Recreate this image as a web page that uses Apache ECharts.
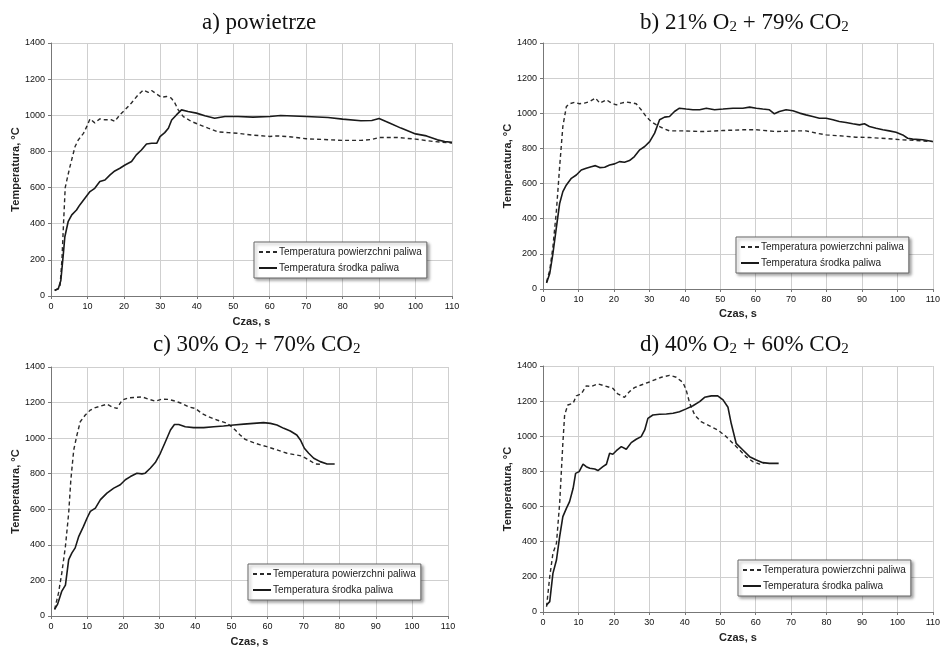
<!DOCTYPE html>
<html>
<head>
<meta charset="utf-8">
<script src="https://cdn.jsdelivr.net/npm/echarts@6/dist/echarts.min.js"></script>
<style>html,body{margin:0;padding:0;background:#fff;}#c{width:943px;height:648px;}</style>
</head>
<body>
<div id="c"></div>
<script>
// Series names
const nameSurface = 'Temperatura powierzchni paliwa';
const nameCore = 'Temperatura środka paliwa';
// Axis texts
const xName = 'Czas, s';
const yName = 'Temperatura, °C';
// Titles
const titles = ['a) powietrze', 'b) 21% O{s|2} + 79% CO{s|2}', 'c) 30% O{s|2} + 70% CO{s|2}', 'd) 40% O{s|2} + 60% CO{s|2}'];

// a) powietrze  [time s, temperature °C]
const aSurface = [[1,33],[2,40],[2.5,60],[3,200],[3.5,430],[3.9,600],[4.5,655],[5.2,716],[6.6,827],[7.5,864],[8.9,900],[9.8,937],[10.7,980],[12,958],[13.4,980],[14.8,975],[16.6,975],[17.5,966],[18.9,1003],[20.3,1030],[22,1067],[23.9,1113],[25.3,1140],[26.7,1127],[27.6,1137],[29,1117],[30.3,1100],[31.7,1104],[33,1095],[34,1067],[34.9,1030],[36.3,993],[38.5,966],[40.8,947],[43.1,929],[45.8,908],[48.6,904],[51.3,900],[55.4,890],[60,883],[62,886],[66,880],[70,870],[75,866],[80,861],[85,861],[88,866],[90,877],[95,877],[100,868],[105,855],[110,846]];
const aCore = [[1,31],[2,40],[2.7,86],[3.4,236],[3.8,328],[4.7,411],[5.7,449],[7,476],[7.9,504],[9.3,541],[10.7,578],[12,596],[13.4,633],[14.8,642],[16.2,670],[17.5,692],[18.9,707],[20.3,725],[22.1,744],[23.4,781],[24.8,808],[26.2,841],[27.6,845],[29,845],[29.9,882],[31.2,904],[32.2,928],[33.1,974],[34.4,1002],[35.8,1030],[37.6,1021],[39.9,1012],[42.2,997],[44.9,984],[47.7,993],[51.3,993],[55.4,990],[60,993],[63,999],[70,993],[76,988],[80,979],[85,970],[88,971],[90,982],[93,956],[96,929],[100,897],[103,886],[106,864],[108,855],[110,850]];

// b) 21% O2 + 79% CO2
const bSurface = [[1,40],[1.9,107],[2.8,240],[3.8,449],[4.7,697],[5.6,925],[6.6,1039],[7.5,1054],[8.9,1062],[10.3,1054],[11.7,1058],[13.2,1067],[14.8,1087],[16,1058],[17.9,1077],[19.3,1058],[20.7,1048],[22.1,1058],[23.5,1064],[25.4,1058],[26.3,1054],[27.7,1020],[29.1,982],[30.5,953],[32,934],[33.8,915],[35.7,900],[39.5,900],[45.1,896],[50.8,902],[56.4,906],[60.2,906],[65.8,896],[71.4,900],[74.2,900],[77.1,887],[79.9,877],[83.6,872],[88.3,864],[92.1,862],[96.8,856],[101.5,849],[105.3,845],[110,839]];
const bCore = [[1,34],[1.9,88],[2.8,202],[3.8,354],[4.7,487],[5.6,554],[6.6,592],[8,630],[9.4,649],[10.8,677],[12.2,687],[13.6,696],[14.8,702],[16,691],[17.4,693],[18.8,706],[20.2,712],[21.6,725],[23,721],[24.4,731],[25.8,754],[27.3,792],[28.7,811],[30.1,839],[31.5,887],[32.9,963],[34.3,978],[35.7,982],[37.1,1010],[38.5,1029],[40.4,1024],[42.3,1020],[44.2,1020],[46.1,1029],[48.4,1020],[50.8,1024],[53.6,1029],[56.4,1029],[58.3,1035],[60.2,1029],[62,1024],[63.9,1020],[65.3,997],[66.7,1010],[68.6,1020],[70.5,1014],[72.4,1001],[74.2,991],[76.1,982],[78,972],[79.9,972],[81.8,963],[83.6,953],[85.5,948],[87.4,940],[89.3,934],[90.7,940],[92.1,925],[94,915],[95.9,906],[97.7,900],[99.6,892],[101.5,877],[102.9,858],[104.3,853],[107.1,849],[110,839]];

// c) 30% O2 + 70% CO2
const cSurface = [[1,37],[2.1,131],[3,243],[4,392],[4.9,579],[5.5,766],[6.3,934],[7.2,1018],[8.1,1092],[9.5,1130],[10.9,1158],[12.3,1172],[13.7,1180],[15.5,1191],[16.9,1176],[18.3,1167],[19.7,1214],[21.5,1227],[23.4,1229],[25.2,1232],[27.1,1219],[28.9,1208],[30.7,1219],[32.6,1218],[34.4,1208],[36.3,1195],[38.1,1176],[40,1167],[41.8,1139],[43.7,1120],[46,1102],[48.8,1083],[50.6,1055],[52.4,1018],[53.8,993],[56.1,975],[58,962],[59.8,952],[62.6,934],[65.4,915],[67.7,906],[69.5,900],[71.4,878],[73.2,855],[75,853]];
const cCore = [[1,37],[1.8,65],[3,140],[4,174],[4.9,317],[5.8,355],[6.7,383],[7.7,448],[9,504],[10,551],[10.9,588],[12.3,607],[13.7,654],[15.5,691],[17.4,719],[19.2,738],[20.6,766],[22,784],[23.8,803],[25.2,799],[26.1,803],[27.5,831],[28.9,863],[30.3,915],[31.7,980],[33.1,1046],[34.2,1077],[35.4,1077],[37.2,1064],[39.5,1059],[42.3,1059],[45.1,1064],[47.8,1068],[50.6,1074],[53.4,1079],[56.1,1083],[58.9,1087],[60.8,1083],[62.6,1074],[64.5,1055],[66.3,1040],[68.1,1018],[69.1,990],[70.2,943],[71.4,915],[72.8,887],[74.6,868],[76.5,855],[78.6,855]];

// d) 40% O2 + 60% CO2
const dSurface = [[1,30],[1.9,201],[2.8,334],[3.8,391],[4.7,619],[5.6,960],[6.1,1121],[7,1178],[8.5,1188],[9.4,1230],[10.8,1241],[12.2,1287],[13.6,1283],[15.5,1298],[17.4,1287],[19.7,1273],[21.1,1241],[23,1222],[24.4,1254],[25.8,1277],[27.7,1292],[29.6,1306],[31.5,1321],[33.4,1336],[35.7,1347],[37.6,1336],[39.5,1306],[40.4,1264],[41.4,1188],[42.8,1121],[44.6,1083],[47,1059],[49.3,1036],[51.7,998],[53.6,960],[55.5,922],[57.3,884],[59.2,856],[61.1,842],[62.5,850]];
const dCore = [[1,40],[1.9,59],[2.8,220],[3.8,296],[4.7,429],[5.6,543],[6.6,590],[7.5,628],[8.5,704],[9.2,789],[10.2,799],[11.3,841],[12.2,827],[13.2,818],[14.6,814],[15.5,805],[16.9,827],[17.9,841],[18.8,903],[19.7,898],[20.7,918],[22.1,941],[23.5,926],[24.9,964],[26.3,983],[27.7,998],[28.7,1036],[29.6,1102],[31,1121],[32.9,1125],[34.8,1127],[36.7,1131],[38.5,1140],[40.4,1156],[42.3,1174],[44.2,1197],[45.6,1222],[47.5,1230],[49.3,1230],[50.8,1207],[52.2,1165],[53.1,1074],[54.5,960],[56.4,922],[58.3,884],[60.2,865],[62,850],[63.9,846],[66.5,846]];

const surfaces = [aSurface, bSurface, cSurface, dSurface];
const cores = [aCore, bCore, cCore, dCore];

// layout (pixels)
const grids = [
  {left: 51, top: 43, width: 401, height: 253},
  {left: 543, top: 43, width: 390, height: 246},
  {left: 51, top: 367, width: 397, height: 250},
  {left: 543, top: 366, width: 390, height: 246}
];
const titlePos = [{left: 202, top: 10}, {left: 640, top: 10}, {left: 153, top: 332}, {left: 640, top: 332}];
const legendPos = [{left: 254, top: 242}, {left: 736, top: 237}, {left: 248, top: 564}, {left: 738, top: 560}];
const xNameGap = [20, 19, 20, 20];

const sans = 'Liberation Sans, Arial, sans-serif';
const serif = 'Liberation Serif, Times New Roman, serif';

const option = {
  backgroundColor: '#fff',
  animation: false,
  title: titles.map((t, i) => ({
    text: t,
    left: titlePos[i].left, top: titlePos[i].top, padding: 0,
    textStyle: {
      fontFamily: serif, fontSize: 23, fontWeight: 'normal', color: '#111', lineHeight: 25,
      rich: { s: { fontFamily: serif, fontSize: 15, color: '#111', verticalAlign: 'bottom', lineHeight: 15 } }
    }
  })),
  grid: grids,
  legend: legendPos.map((p, i) => ({
    left: p.left, top: p.top, orient: 'vertical',
    data: [nameSurface, nameCore],
    padding: [5, 5, 5, 4], itemGap: 6, itemWidth: 18, itemHeight: 10,
    backgroundColor: '#fff', borderColor: '#666', borderWidth: 1,
    shadowColor: 'rgba(0,0,0,0.35)', shadowBlur: 3, shadowOffsetX: 2, shadowOffsetY: 2,
    itemStyle: { color: 'rgba(0,0,0,0)', borderWidth: 0, opacity: 0 },
    textStyle: { fontFamily: sans, fontSize: 10, color: '#222', padding: [0, 0, 0, -3] },
    selectedMode: false
  })),
  xAxis: grids.map((g, i) => ({
    type: 'value', gridIndex: i, min: 0, max: 110, interval: 10,
    name: xName, nameLocation: 'middle', nameGap: xNameGap[i],
    nameTextStyle: { fontFamily: sans, fontSize: 11, fontWeight: 'bold', color: '#222' },
    axisLine: { show: true, lineStyle: { color: '#777', width: 1 } },
    axisTick: { show: true, length: 3, lineStyle: { color: '#777' } },
    axisLabel: { fontFamily: sans, fontSize: 9, color: '#111', margin: 6, formatter: v => String(v) },
    splitLine: { show: true, lineStyle: { color: '#cfcfcf', width: 1 } }
  })),
  yAxis: grids.map((g, i) => ({
    type: 'value', gridIndex: i, min: 0, max: 1400, interval: 200,
    name: yName, nameLocation: 'middle', nameGap: 30, nameRotate: 90,
    nameTextStyle: { fontFamily: sans, fontSize: 11, fontWeight: 'bold', color: '#222' },
    axisLine: { show: true, lineStyle: { color: '#777', width: 1 } },
    axisTick: { show: true, length: 3, lineStyle: { color: '#777' } },
    axisLabel: { fontFamily: sans, fontSize: 9, color: '#111', margin: 6, formatter: v => String(v) },
    splitLine: { show: true, lineStyle: { color: '#cfcfcf', width: 1 } }
  })),
  series: []
};

for (let i = 0; i < 4; i++) {
  option.series.push({
    name: nameSurface, type: 'line', xAxisIndex: i, yAxisIndex: i,
    data: surfaces[i], symbol: 'none', showSymbol: false, smooth: false,
    lineStyle: { color: '#2a2a2a', width: 1.4, type: [4, 3] },
    itemStyle: { color: '#2a2a2a' }
  });
  option.series.push({
    name: nameCore, type: 'line', xAxisIndex: i, yAxisIndex: i,
    data: cores[i], symbol: 'none', showSymbol: false, smooth: false,
    lineStyle: { color: '#1a1a1a', width: 1.6, type: 'solid' },
    itemStyle: { color: '#1a1a1a' }
  });
}

const chart = echarts.init(document.getElementById('c'), null, { renderer: 'canvas' });
chart.setOption(option);
</script>
</body>
</html>
